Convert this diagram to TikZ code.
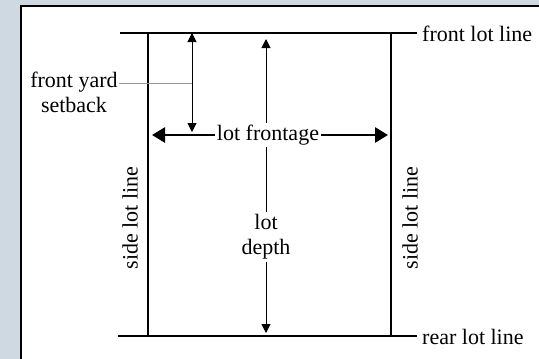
\documentclass[tikz,border=0pt]{standalone}
\usepackage{fontspec}
\setmainfont{Liberation Serif}
\usetikzlibrary{arrows.meta}
\definecolor{bgblue}{RGB}{206,217,225}
\definecolor{leader}{RGB}{150,150,150}
\begin{document}
\begin{tikzpicture}[x=1pt,y=-1pt,
  lotline/.style={line width=1.6pt,black},
  thinarrow/.style={line width=1pt,-{Triangle[length=9pt,width=9pt]}},
  thickarrow/.style={line width=2.8pt,-{Triangle[length=13pt,width=15pt]}},
  lbl/.style={font=\fontsize{22}{25}\selectfont,inner sep=1pt}]
\useasboundingbox (0,0) rectangle (539,359);
\fill[bgblue] (0,0) rectangle (539,359);
\draw[line width=1.8pt,fill=white] (21,6) rectangle (560,380);
% lot corners
\coordinate (flL) at (120,33);
\coordinate (flR) at (417,33);
\coordinate (rlL) at (118,336);
\coordinate (rlR) at (417,336);
\coordinate (sLt) at (148,33);
\coordinate (sLb) at (148,336);
\coordinate (sRt) at (391,33);
\coordinate (sRb) at (391,336);
\draw[lotline] (flL) -- (flR);
\draw[lotline] (rlL) -- (rlR);
\draw[lotline] (sLt) -- (sLb);
\draw[lotline] (sRt) -- (sRb);
% labels
\node[lbl,anchor=west] (fll) at (421,34) {front lot line};
\node[lbl,anchor=west] (rll) at (421,337) {rear lot line};
\node[lbl,rotate=90] (sl1) at (130,218) {side lot line};
\node[lbl,rotate=90] (sl2) at (410,218) {side lot line};
\node[lbl,align=center] (fys) at (74,92) {front yard\\setback};
% lot depth
\node[lbl,align=center,fill=white,inner sep=2pt] (ld) at (266,237) {lot\\depth};
\coordinate (ldT) at (266,39);
\coordinate (ldB) at (266,333);
\draw[thinarrow] (ld.north) -- (ldT);
\draw[thinarrow] (ld.south) -- (ldB);
% lot frontage
\node[lbl,inner sep=2pt,fill=white] (lf) at (268,135) {lot frontage};
\coordinate (lfL) at (152,135);
\coordinate (lfR) at (388,135);
\draw[thickarrow] (lf.west) -- (lfL);
\draw[thickarrow] (lf.east) -- (lfR);
% front yard setback arrow
\coordinate (sbT) at (192,33);
\coordinate (sbB) at (192,132);
\draw[line width=1pt,{Triangle[length=9pt,width=9pt]}-{Triangle[length=9pt,width=9pt]}] (sbT) -- (sbB);
\coordinate (ldE) at (192,83);
\draw[leader,line width=0.6pt] (fys.east |- ldE) -- (ldE);
\end{tikzpicture}
\end{document}
